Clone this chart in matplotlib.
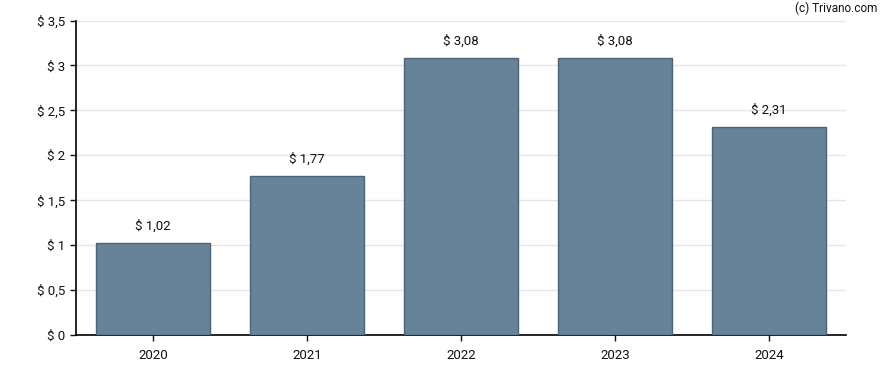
import matplotlib
matplotlib.use("Agg")
import matplotlib.pyplot as plt

plt.rcParams['font.family'] = ['Roboto', 'DejaVu Sans']

years = ["2020", "2021", "2022", "2023", "2024"]
values = [1.02, 1.77, 3.08, 3.08, 2.31]
yticks = [0, 0.5, 1, 1.5, 2, 2.5, 3, 3.5]
ytick_labels = ["$ 0", "$ 0,5", "$ 1", "$ 1,5", "$ 2", "$ 2,5", "$ 3", "$ 3,5"]

fig = plt.figure(figsize=(8.88, 3.70), dpi=100)
ax = fig.add_axes([76/888, 35/370, 770/888, 314.5/370])

x = list(range(len(years)))
ax.bar(x, values, width=0.74, color='#66839a', edgecolor='#4b6479', linewidth=1, zorder=3)
for xi, v in zip(x, values):
    ax.annotate("$ " + f"{v:.2f}".replace('.', ','), (xi, v), xytext=(0, 7.5),
                textcoords='offset points', ha='center', va='bottom', fontsize=9.5, color='#111111')

ax.set_xlim(-0.5, len(years) - 0.5)
ax.set_ylim(0, 3.5)
ax.set_xticks(x)
ax.set_xticklabels(years)
ax.set_yticks(yticks)
ax.set_yticklabels(ytick_labels)
ax.tick_params(axis='both', labelsize=9.5, colors='#111111', length=4, width=1)
ax.tick_params(axis='x', pad=6)
ax.grid(axis='y', color='#e6e6e6', linewidth=1, zorder=0)
for s in ['top', 'right']:
    ax.spines[s].set_visible(False)
for s in ['left', 'bottom']:
    ax.spines[s].set_color('#000000')
    ax.spines[s].set_linewidth(1.2)

fig.text(877/888, 1 - 8/370, "(c) Trivano.com", ha='right', va='center', fontsize=8.5, color='#111111')

fig.savefig("out.png", dpi=100)
